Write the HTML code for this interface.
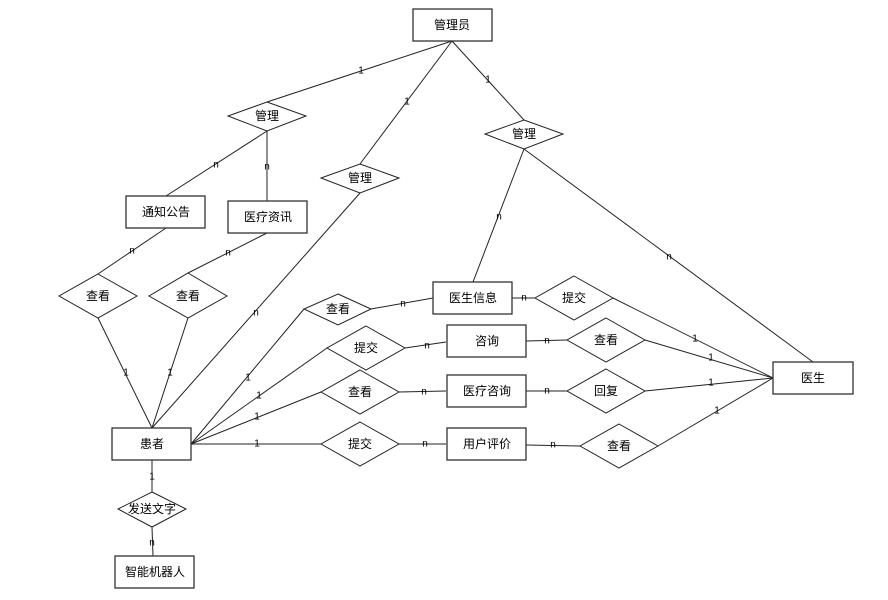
<!DOCTYPE html>
<html><head><meta charset="utf-8"><style>
html,body{margin:0;padding:0;background:#fff;}
svg{display:block;}
text{font-family:"Liberation Sans","Noto Sans CJK SC",sans-serif;}
.t{font-size:12px;text-anchor:middle;dominant-baseline:central;fill:#000;}
.l{font-size:10px;text-anchor:middle;dominant-baseline:central;fill:#000;}
</style></head><body>
<svg width="888" height="600" viewBox="0 0 888 600" xmlns="http://www.w3.org/2000/svg">
<g stroke="#222" stroke-width="1" fill="none">
<line x1="452" y1="41" x2="267" y2="102"/>
<line x1="452" y1="41" x2="360" y2="164"/>
<line x1="452" y1="41" x2="524" y2="120"/>
<line x1="267" y1="131" x2="166" y2="196"/>
<line x1="267" y1="131" x2="267" y2="201"/>
<line x1="360" y1="193" x2="152" y2="428"/>
<line x1="524" y1="149" x2="473" y2="282"/>
<line x1="524" y1="149" x2="813" y2="362"/>
<line x1="166" y1="228" x2="98" y2="274"/>
<line x1="267" y1="233" x2="188" y2="273"/>
<line x1="98" y1="318" x2="152" y2="428"/>
<line x1="188" y1="318" x2="152" y2="428"/>
<line x1="191" y1="444" x2="304" y2="309"/>
<line x1="371" y1="309" x2="433" y2="298"/>
<line x1="191" y1="444" x2="327" y2="348"/>
<line x1="405" y1="348" x2="446" y2="342"/>
<line x1="191" y1="444" x2="321" y2="392"/>
<line x1="399" y1="392" x2="446" y2="391"/>
<line x1="191" y1="444" x2="321" y2="444"/>
<line x1="399" y1="444" x2="446" y2="444"/>
<line x1="512" y1="298" x2="535" y2="298"/>
<line x1="613" y1="298" x2="773" y2="378"/>
<line x1="526" y1="341" x2="567" y2="340"/>
<line x1="645" y1="340" x2="773" y2="378"/>
<line x1="526" y1="391" x2="567" y2="391"/>
<line x1="645" y1="391" x2="773" y2="378"/>
<line x1="526" y1="445" x2="580" y2="446"/>
<line x1="658" y1="446" x2="773" y2="378"/>
<line x1="152" y1="460" x2="152" y2="492"/>
<line x1="152" y1="527" x2="153" y2="556"/>
</g>
<g stroke="#333" stroke-width="1.3" fill="#fff">
<rect x="413" y="9" width="79" height="32"/>
<rect x="126" y="196" width="79" height="32"/>
<rect x="228" y="201" width="79" height="32"/>
<rect x="433" y="282" width="79" height="32"/>
<rect x="447" y="325" width="79" height="32"/>
<rect x="447" y="375" width="79" height="32"/>
<rect x="447" y="428" width="79" height="32"/>
<rect x="773" y="362" width="80" height="32"/>
<rect x="112" y="428" width="79" height="32"/>
<rect x="115" y="556" width="79" height="32"/>
</g>
<g stroke="#222" stroke-width="1" fill="#fff">
<polygon points="267,102 306,116 267,131 228,116"/>
<polygon points="360,164 399,178 360,193 321,178"/>
<polygon points="524,120 563,134 524,149 485,134"/>
<polygon points="98,274 137,296 98,318 59,296"/>
<polygon points="188,273 227,296 188,318 149,296"/>
<polygon points="338,294 371,309 338,325 304,309"/>
<polygon points="574,276 613,298 574,320 535,298"/>
<polygon points="366,326 405,348 366,370 327,348"/>
<polygon points="360,370 399,392 360,414 321,392"/>
<polygon points="360,422 399,444 360,466 321,444"/>
<polygon points="606,318 645,340 606,362 567,340"/>
<polygon points="606,369 645,391 606,413 567,391"/>
<polygon points="619,424 658,446 619,468 580,446"/>
<polygon points="152,492 186,509 152,527 118,509"/>
</g>
<g class="t">
<text class="t" x="452" y="25">管理员</text>
<text class="t" x="166" y="212">通知公告</text>
<text class="t" x="268" y="217">医疗资讯</text>
<text class="t" x="473" y="298">医生信息</text>
<text class="t" x="487" y="341">咨询</text>
<text class="t" x="487" y="391">医疗咨询</text>
<text class="t" x="487" y="444">用户评价</text>
<text class="t" x="813" y="378">医生</text>
<text class="t" x="152" y="444">患者</text>
<text class="t" x="155" y="572">智能机器人</text>
<text class="t" x="267" y="116">管理</text>
<text class="t" x="360" y="178">管理</text>
<text class="t" x="524" y="134">管理</text>
<text class="t" x="98" y="296">查看</text>
<text class="t" x="188" y="296">查看</text>
<text class="t" x="338" y="309">查看</text>
<text class="t" x="574" y="298">提交</text>
<text class="t" x="366" y="348">提交</text>
<text class="t" x="360" y="392">查看</text>
<text class="t" x="360" y="444">提交</text>
<text class="t" x="606" y="340">查看</text>
<text class="t" x="606" y="391">回复</text>
<text class="t" x="619" y="446">查看</text>
<text class="t" x="152" y="509">发送文字</text>
</g>
<g>
<text class="l" x="361" y="71">1</text>
<text class="l" x="407" y="102">1</text>
<text class="l" x="488" y="80">1</text>
<text class="l" x="216" y="165">n</text>
<text class="l" x="267" y="167">n</text>
<text class="l" x="256" y="313">n</text>
<text class="l" x="499" y="217">n</text>
<text class="l" x="669" y="257">n</text>
<text class="l" x="132" y="251">n</text>
<text class="l" x="228" y="253">n</text>
<text class="l" x="126" y="373">1</text>
<text class="l" x="170" y="373">1</text>
<text class="l" x="248" y="378">1</text>
<text class="l" x="403" y="304">n</text>
<text class="l" x="259" y="396">1</text>
<text class="l" x="427" y="346">n</text>
<text class="l" x="257" y="417">1</text>
<text class="l" x="424" y="392">n</text>
<text class="l" x="257" y="444">1</text>
<text class="l" x="425" y="444">n</text>
<text class="l" x="524" y="298">n</text>
<text class="l" x="695" y="339">1</text>
<text class="l" x="547" y="341">n</text>
<text class="l" x="711" y="358">1</text>
<text class="l" x="547" y="391">n</text>
<text class="l" x="711" y="383">1</text>
<text class="l" x="553" y="445">n</text>
<text class="l" x="717" y="411">1</text>
<text class="l" x="152" y="477">1</text>
<text class="l" x="152" y="543">n</text>
</g>
</svg>
</body></html>
